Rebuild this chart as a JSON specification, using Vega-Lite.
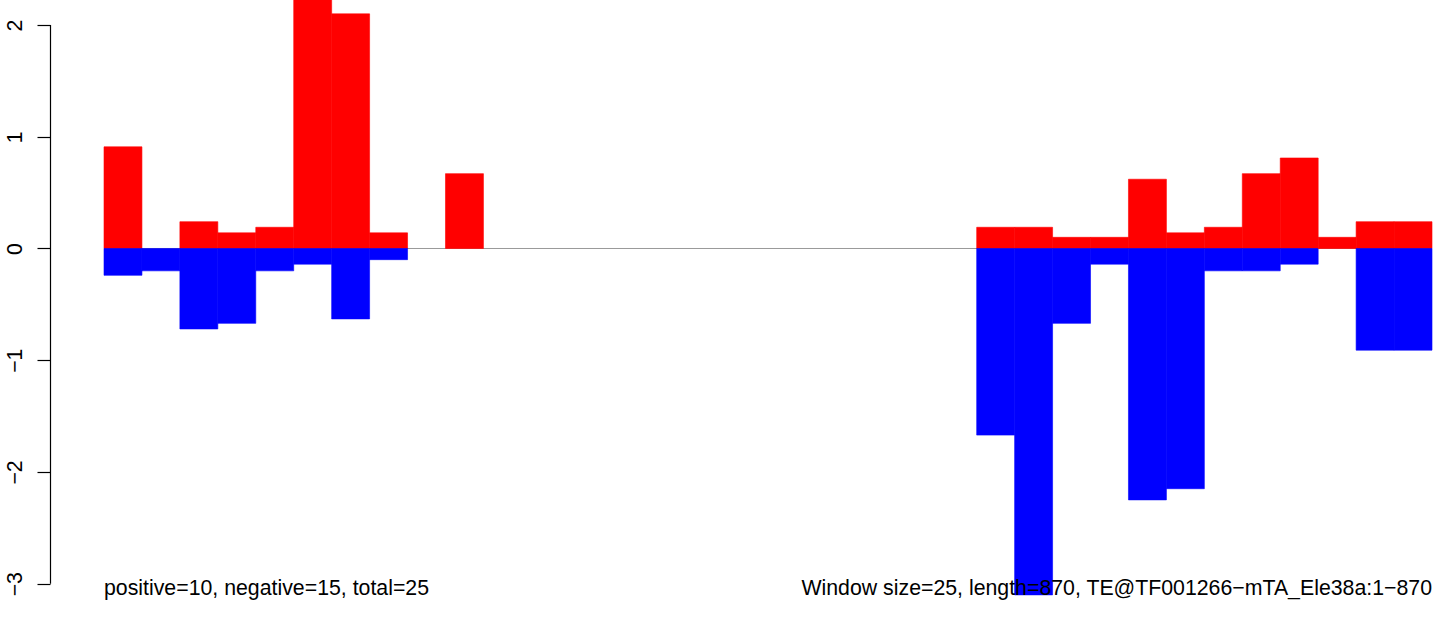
{
  "$schema": "https://vega.github.io/schema/vega-lite/v6.json",
  "autosize": {"type": "none"},
  "padding": {"left": 50, "top": 0, "right": 0, "bottom": 0},
  "width": 1394,
  "height": 617,
  "background": "white",
  "config": {"view": {"stroke": null}},
  "datasets": {
    "bars": [
      {"window": 0, "start": 0, "end": 25, "sign": "positive", "value": 0.91},
      {"window": 0, "start": 0, "end": 25, "sign": "negative", "value": -0.24},
      {"window": 1, "start": 25, "end": 50, "sign": "negative", "value": -0.2},
      {"window": 2, "start": 50, "end": 75, "sign": "positive", "value": 0.24},
      {"window": 2, "start": 50, "end": 75, "sign": "negative", "value": -0.72},
      {"window": 3, "start": 75, "end": 100, "sign": "positive", "value": 0.14},
      {"window": 3, "start": 75, "end": 100, "sign": "negative", "value": -0.67},
      {"window": 4, "start": 100, "end": 125, "sign": "positive", "value": 0.19},
      {"window": 4, "start": 100, "end": 125, "sign": "negative", "value": -0.2},
      {"window": 5, "start": 125, "end": 150, "sign": "positive", "value": 2.5},
      {"window": 5, "start": 125, "end": 150, "sign": "negative", "value": -0.14},
      {"window": 6, "start": 150, "end": 175, "sign": "positive", "value": 2.1},
      {"window": 6, "start": 150, "end": 175, "sign": "negative", "value": -0.63},
      {"window": 7, "start": 175, "end": 200, "sign": "positive", "value": 0.14},
      {"window": 7, "start": 175, "end": 200, "sign": "negative", "value": -0.1},
      {"window": 9, "start": 225, "end": 250, "sign": "positive", "value": 0.67},
      {"window": 23, "start": 575, "end": 600, "sign": "positive", "value": 0.19},
      {"window": 23, "start": 575, "end": 600, "sign": "negative", "value": -1.67},
      {"window": 24, "start": 600, "end": 625, "sign": "positive", "value": 0.19},
      {"window": 24, "start": 600, "end": 625, "sign": "negative", "value": -3.1},
      {"window": 25, "start": 625, "end": 650, "sign": "positive", "value": 0.1},
      {"window": 25, "start": 625, "end": 650, "sign": "negative", "value": -0.67},
      {"window": 26, "start": 650, "end": 675, "sign": "positive", "value": 0.1},
      {"window": 26, "start": 650, "end": 675, "sign": "negative", "value": -0.14},
      {"window": 27, "start": 675, "end": 700, "sign": "positive", "value": 0.62},
      {"window": 27, "start": 675, "end": 700, "sign": "negative", "value": -2.25},
      {"window": 28, "start": 700, "end": 725, "sign": "positive", "value": 0.14},
      {"window": 28, "start": 700, "end": 725, "sign": "negative", "value": -2.15},
      {"window": 29, "start": 725, "end": 750, "sign": "positive", "value": 0.19},
      {"window": 29, "start": 725, "end": 750, "sign": "negative", "value": -0.2},
      {"window": 30, "start": 750, "end": 775, "sign": "positive", "value": 0.67},
      {"window": 30, "start": 750, "end": 775, "sign": "negative", "value": -0.2},
      {"window": 31, "start": 775, "end": 800, "sign": "positive", "value": 0.81},
      {"window": 31, "start": 775, "end": 800, "sign": "negative", "value": -0.14},
      {"window": 32, "start": 800, "end": 825, "sign": "positive", "value": 0.1},
      {"window": 33, "start": 825, "end": 850, "sign": "positive", "value": 0.24},
      {"window": 33, "start": 825, "end": 850, "sign": "negative", "value": -0.91},
      {"window": 34, "start": 850, "end": 875, "sign": "positive", "value": 0.24},
      {"window": 34, "start": 850, "end": 875, "sign": "negative", "value": -0.91}
    ]
  },
  "layer": [
    {
      "data": {"values": [{"x0": 0, "x1": 875, "y": 0}]},
      "mark": {"type": "rule", "color": "#999999", "strokeWidth": 1},
      "encoding": {
        "x": {"field": "x0", "type": "quantitative", "scale": {"domain": [-35.58, 882.9], "nice": false, "zero": false}, "axis": null},
        "x2": {"field": "x1"},
        "y": {"field": "y", "type": "quantitative", "scale": {"domain": [-3.298, 2.224], "nice": false, "zero": false},
          "axis": {
            "values": [-3, -2, -1, 0, 1, 2],
            "format": "d",
            "title": null,
            "grid": false,
            "domain": false,
            "ticks": true,
            "tickSize": 13,
            "tickColor": "black",
            "tickWidth": 1.2,
            "labelAngle": 270,
            "labelAlign": "center",
            "labelBaseline": "alphabetic",
            "labelPadding": 16,
            "labelFont": "Liberation Sans",
            "labelFontSize": 21.3,
            "labelColor": "black",
            "labelFlush": false,
            "labelOverlap": false
          }
        }
      }
    },
    {
      "data": {"values": [{"x": -35.25, "y0": -3, "y1": 2}]},
      "mark": {"type": "rule", "color": "black", "strokeWidth": 1.2, "clip": false},
      "encoding": {
        "x": {"field": "x", "type": "quantitative"},
        "y": {"field": "y0", "type": "quantitative"},
        "y2": {"field": "y1"}
      }
    },
    {
      "data": {"name": "bars"},
      "mark": {"type": "rect", "clip": true, "strokeWidth": 0.6},
      "encoding": {
        "x": {"field": "start", "type": "quantitative"},
        "x2": {"field": "end"},
        "y": {"field": "value", "type": "quantitative"},
        "y2": {"datum": 0},
        "color": {"field": "sign", "type": "nominal", "scale": {"domain": ["positive", "negative"], "range": ["#ff0000", "#0000ff"]}, "legend": null},
        "stroke": {"field": "sign", "type": "nominal", "scale": {"domain": ["positive", "negative"], "range": ["#ff0000", "#0000ff"]}, "legend": null}
      }
    },
    {
      "data": {"values": [{"pos": 0, "y": -3.1, "text": "positive=10, negative=15, total=25"}]},
      "mark": {"type": "text", "font": "Liberation Sans", "fontSize": 21.3, "color": "black", "align": "left", "baseline": "alphabetic", "clip": false},
      "encoding": {
        "x": {"field": "pos", "type": "quantitative"},
        "y": {"field": "y", "type": "quantitative"},
        "text": {"field": "text"}
      }
    },
    {
      "data": {"values": [{"pos": 875, "y": -3.1, "text": "Window size=25, length=870, TE@TF001266−mTA_Ele38a:1−870"}]},
      "mark": {"type": "text", "font": "Liberation Sans", "fontSize": 21.3, "color": "black", "align": "right", "baseline": "alphabetic", "clip": false},
      "encoding": {
        "x": {"field": "pos", "type": "quantitative"},
        "y": {"field": "y", "type": "quantitative"},
        "text": {"field": "text"}
      }
    }
  ]
}
